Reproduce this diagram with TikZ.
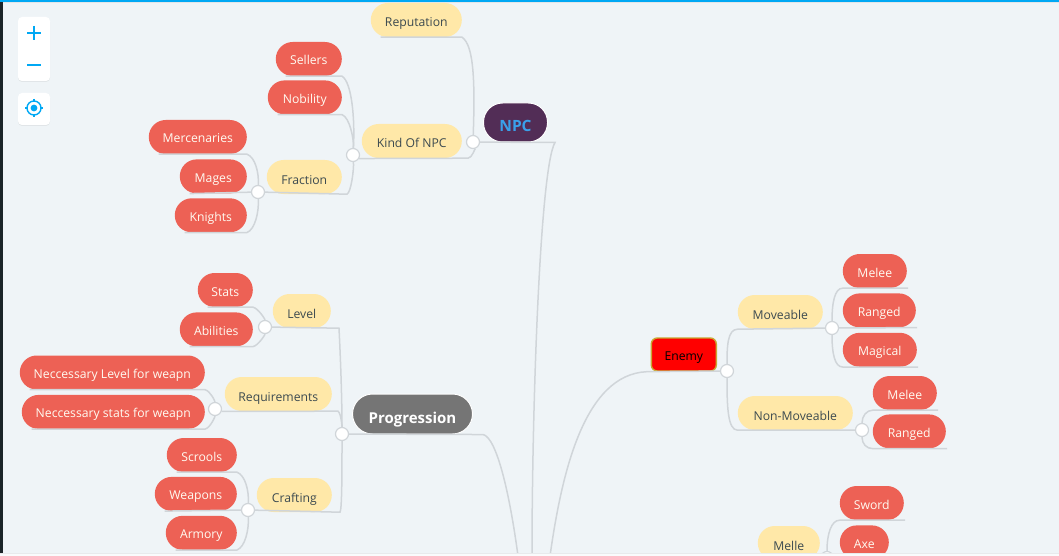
\documentclass[tikz,border=0pt]{standalone}
\usepackage{fontspec}
\setmainfont{Open Sans}
\usetikzlibrary{positioning,shadows}
\definecolor{mapFondo}{HTML}{EFF4F7}
\definecolor{mapLinea}{HTML}{D0D5D9}
\definecolor{mapRojo}{HTML}{ED6155}
\definecolor{mapAmarillo}{HTML}{FFE8A8}
\definecolor{mapTexto}{HTML}{3C4A50}
\definecolor{mapAzul}{HTML}{00A8F4}
\definecolor{mapBorde}{HTML}{1B2428}
\definecolor{npcFill}{HTML}{522D56}
\definecolor{npcText}{HTML}{3AA0EA}
\definecolor{progFill}{HTML}{757575}
\definecolor{enemyEdge}{HTML}{C8A832}
\begin{document}
\begin{tikzpicture}[x=1pt, y=-1pt,
     pill/.style={rectangle, rounded corners=16.9pt, inner sep=0pt, minimum height=34pt,
                  anchor=east, font=\fontsize{12.2}{14}\selectfont},
     leaf/.style={pill, fill=mapRojo, text=white!85!mapAmarillo, text height=14.5pt, text depth=2.5pt},
     sub/.style={pill, fill=mapAmarillo, text=mapTexto, text height=16.5pt, text depth=2.5pt},
     hub/.style={circle, draw=mapLinea, line width=1.2pt, fill=white, minimum size=13pt, inner sep=0pt},
     lnk/.style={draw=mapLinea, line width=1.5pt},
     tool/.style={rectangle, rounded corners=4pt, fill=white, minimum width=32pt, inner sep=0pt,
                  drop shadow={opacity=.12, shadow xshift=0pt, shadow yshift=-1pt}},
     ico/.style={draw=mapAzul, line width=2pt}]
    \clip (0,0) rectangle (1059,556);
    \fill[mapFondo] (0,0) rectangle (1059,556);
    \fill[mapBorde] (0,0) rectangle (3,556);
    \fill[mapAzul] (0,0) rectangle (1059,2);
    \fill[mapLinea!60] (3,2) rectangle (1059,3);

    \node[tool, minimum height=64pt] (zoombox) at (34,49) {};
    \node[tool, minimum height=32pt] (locatebox) at (34,109) {};
    \draw[ico] (27,33) -- (41,33) (34,26) -- (34,40);
    \draw[ico] (27,65) -- (41,65);
    \draw[ico, line width=1.4pt] (34,108) circle (7);
    \fill[mapAzul] (34,108) circle (3.4);
    \draw[ico, line width=1.2pt] (34,99) -- (34,102) (34,114) -- (34,117) (25,108) -- (28,108) (40,108) -- (43,108);

    \coordinate (rootprog) at (518,556);
    \coordinate (rootnpc) at (532,556);
    \coordinate (rootenemy) at (550,556);

    \node[pill, fill=npcFill, rounded corners=19pt, minimum width=64pt, minimum height=39pt, draw=white, line width=1pt,
          text=npcText, text height=19pt, text depth=1pt, font=\fontsize{15.5}{18}\bfseries\selectfont] (npc) at (548,122.5) {NPC};
    \node[hub] (hubnpc) at (473,142) {};
    \node[sub, minimum width=91pt] (reputation) at (462,20) {Reputation};
    \node[sub, minimum width=100pt] (kind) at (462,141) {Kind Of NPC};
    \node[hub] (hubkind) at (353,155) {};
    \node[leaf, minimum width=66pt] (sellers) at (342,59) {Sellers};
    \node[leaf, minimum width=74pt, below=4pt of sellers.south east, anchor=north east] (nobility) {Nobility};
    \node[sub, minimum width=75pt] (fraction) at (342,177) {Fraction};
    \node[hub] (hubfraction) at (258,192) {};
    \node[leaf, minimum width=98pt] (mercenaries) at (247,137) {Mercenaries};
    \node[leaf, minimum width=67pt, below=5pt of mercenaries.south east, anchor=north east] (mages) {Mages};
    \node[leaf, minimum width=72pt, below=4.5pt of mages.south east, anchor=north east] (knights) {Knights};

    \node[pill, fill=progFill, rounded corners=20pt, minimum width=120pt, minimum height=40pt, draw=white, line width=1pt,
          text=white, text height=19pt, text depth=1pt, font=\fontsize{15}{18}\bfseries\selectfont] (progression) at (473,414) {Progression};
    \node[hub] (hubprog) at (342,434) {};
    \node[sub, minimum width=58pt] (level) at (331,311) {Level};
    \node[hub] (hublevel) at (265,327) {};
    \node[leaf, minimum width=55pt] (stats) at (253,290) {Stats};
    \node[leaf, minimum width=73pt, below=5pt of stats.south east, anchor=north east] (abilities) {Abilities};
    \node[sub, minimum width=107pt] (requirements) at (332,394) {Requirements};
    \node[hub] (hubreq) at (215,409) {};
    \node[leaf, minimum width=185pt] (needlevel) at (205,372.5) {Neccessary Level for weapn};
    \node[leaf, minimum width=183pt, below=5pt of needlevel.south east, anchor=north east] (needstats) {Neccessary stats for weapn};
    \node[sub, minimum width=75pt] (crafting) at (332,495) {Crafting};
    \node[hub] (hubcraft) at (248,510) {};
    \node[leaf, minimum width=70pt] (scrools) at (237,455) {Scrools};
    \node[leaf, minimum width=82pt, below=4.5pt of scrools.south east, anchor=north east] (weapons) {Weapons};
    \node[leaf, minimum width=71pt, below=4.5pt of weapons.south east, anchor=north east] (armory) {Armory};

    \node[pill, fill=red, rounded corners=6pt, minimum width=65pt, minimum height=33pt, draw=enemyEdge, line width=1.4pt,
          text=black, text height=14pt, text depth=2pt] (enemy) at (717,354.5) {Enemy};
    \node[hub] (hubenemy) at (727,371) {};
    \node[sub, minimum width=85pt] (moveable) at (823,312) {Moveable};
    \node[sub, minimum width=115pt] (nonmoveable) at (853,413) {Non-Moveable};
    \node[hub] (hubmove) at (832,328) {};
    \node[hub] (hubnon) at (862,430) {};
    \node[leaf, minimum width=64pt] (meleea) at (907,271) {Melee};
    \node[leaf, minimum width=73pt, below=5pt of meleea.south west, anchor=north west] (rangeda) {Ranged};
    \node[leaf, minimum width=74pt, below=5pt of rangeda.south west, anchor=north west] (magical) {Magical};
    \node[leaf, minimum width=64pt] (meleeb) at (937,393) {Melee};
    \node[leaf, minimum width=73pt, below=4pt of meleeb.south west, anchor=north west] (rangedb) {Ranged};
    \node[leaf, minimum width=64pt] (sword) at (904,503) {Sword};
    \node[leaf, minimum width=49pt, below=5pt of sword.south west, anchor=north west] (axe) {Axe};
    \node[sub, minimum width=62pt] (melle) at (820,543) {Melle};
    \node[hub] (hubmelle) at (827,558) {};

    \draw[lnk] ([xshift=10pt]reputation.south west) -- (reputation.south east) .. controls +(12,8) and +(2,-60) .. (hubnpc);
    \draw[lnk] (hubkind.-30) -- ([xshift=6pt]kind.south east) .. controls +(4,0) and +(2,6) .. (hubnpc);
    \draw[lnk] (hubnpc) -- (npc.south east) -- +(7,0) .. controls +(-15,25) and +(0,-150) .. (rootnpc);
    \draw[lnk] ([xshift=10pt]sellers.south west) -- (sellers.south east) .. controls +(10,6) and +(2,-35) .. (hubkind);
    \draw[lnk] ([xshift=10pt]nobility.south west) -- (nobility.south east) .. controls +(8,3) and +(1,-15) .. (hubkind);
    \draw[lnk] (hubfraction) -- ([xshift=5pt]fraction.south east) .. controls +(4,-2) and +(1,15) .. (hubkind);
    \draw[lnk] ([xshift=10pt]mercenaries.south west) -- (mercenaries.south east) .. controls +(8,3) and +(1,-20) .. (hubfraction);
    \draw[lnk] ([xshift=10pt]mages.south west) -- (hubfraction);
    \draw[lnk] ([xshift=10pt]knights.south west) -- (knights.south east) .. controls +(8,-3) and +(1,20) .. (hubfraction);

    \draw[lnk] (hubprog) -- (progression.south east) -- +(10,0) .. controls +(14,3) and +(-8,-60) .. (rootprog);
    \draw[lnk] (hublevel) -- ([xshift=8pt]level.south east) .. controls +(2,40) and +(0,-30) .. (hubprog);
    \draw[lnk] (hubreq.-20) -- ([xshift=6pt]requirements.south east) .. controls +(3,2) and +(0,-8) .. (hubprog);
    \draw[lnk] (hubcraft) -- ([xshift=8pt]crafting.south east) .. controls +(2,-2) and +(0,35) .. (hubprog);
    \draw[lnk] ([xshift=10pt]stats.south west) -- (stats.south east) .. controls +(5,1) and +(0,-8) .. (hublevel);
    \draw[lnk] ([xshift=10pt]abilities.south west) -- (abilities.south east) .. controls +(5,-1) and +(0,8) .. (hublevel);
    \draw[lnk] ([xshift=10pt]needlevel.south west) -- (needlevel.south east) .. controls +(5,1) and +(0,-8) .. (hubreq);
    \draw[lnk] ([xshift=10pt]needstats.south west) -- (needstats.south east) .. controls +(5,-1) and +(0,8) .. (hubreq);
    \draw[lnk] ([xshift=10pt]scrools.south west) -- (scrools.south east) .. controls +(8,3) and +(1,-20) .. (hubcraft);
    \draw[lnk] ([xshift=10pt]weapons.south west) -- (hubcraft);
    \draw[lnk] ([xshift=10pt]armory.south west) -- (armory.south east) .. controls +(8,-3) and +(1,20) .. (hubcraft);

    \draw[lnk] (hubenemy) -- ([xshift=-4pt]enemy.south west) .. controls +(-62,3) and +(12,-85) .. (rootenemy);
    \draw[lnk] (hubenemy) .. controls +(0,-25) and +(-10,0) .. (moveable.south west) -- (hubmove);
    \draw[lnk] (hubenemy) .. controls +(0,35) and +(-10,0) .. (nonmoveable.south west) -- (hubnon);
    \draw[lnk] (hubmove) .. controls +(0,-25) and +(-8,0) .. (meleea.south west) -- ([xshift=1pt]meleea.south east);
    \draw[lnk] (hubmove) -- ([xshift=1pt]rangeda.south east);
    \draw[lnk] (hubmove) .. controls +(0,25) and +(-8,0) .. (magical.south west) -- ([xshift=1pt]magical.south east);
    \draw[lnk] (hubnon) .. controls +(0,-14) and +(-6,0) .. (meleeb.south west) -- ([xshift=1pt]meleeb.south east);
    \draw[lnk] (hubnon) .. controls +(0,14) and +(-6,0) .. (rangedb.south west) -- ([xshift=1pt]rangedb.south east);
    \draw[lnk] (hubmelle) .. controls +(0,-25) and +(-8,0) .. (sword.south west) -- ([xshift=1pt]sword.south east);

    \fill[white!60!mapFondo] (0,553) rectangle (1059,556);
    \fill[mapLinea!50] (0,553) rectangle (1059,553.7);
\end{tikzpicture}
\end{document}
